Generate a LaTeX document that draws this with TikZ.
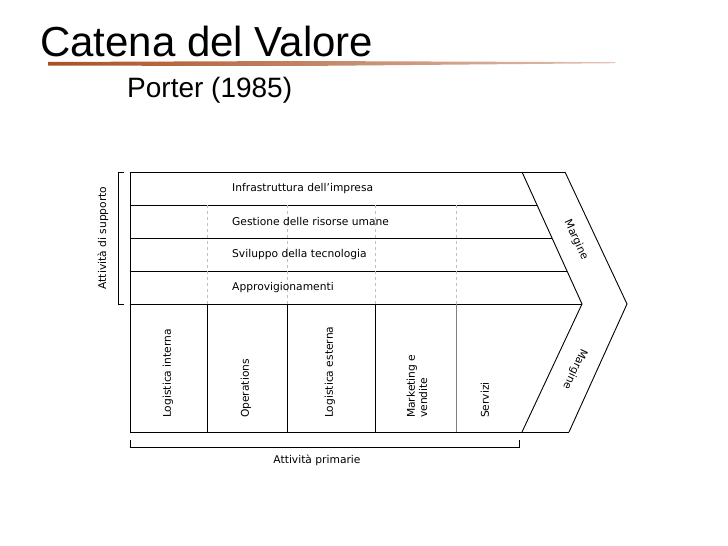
\documentclass[tikz,border=0pt]{standalone}
\usepackage{fontspec}
\setmainfont{Liberation Sans}
\newfontfamily\diagfont{DejaVu Sans}
\begin{document}
\begin{tikzpicture}[x=1pt,y=-1pt,
  lbl/.style={font=\diagfont\fontsize{10.7}{12.2}\selectfont, inner sep=0pt},
  vlbl/.style={lbl, rotate=90, anchor=west, align=left},
  frame/.style={draw=black, line width=0.9pt},
  dashdiv/.style={draw=black!25, dashed, line width=0.5pt},
  brk/.style={draw=black, line width=0.8pt}]
\useasboundingbox (0,0) rectangle (728,546);
\definecolor{brush}{RGB}{170,80,35}
% title
\node[anchor=base west, inner sep=0pt, font=\fontsize{42}{46}\selectfont] (title) at (40,56) {Catena del Valore};
\shade[left color=brush, right color=brush!35!white]
  (48,62) -- (300,61) -- (615,62.2) -- (615,63.2) -- (300,66) -- (48,65.6) -- cycle;
\node[anchor=base west, inner sep=0pt, font=\fontsize{28}{32}\selectfont] (sub) at (127,97) {Porter (1985)};
% main frame
\draw[frame] (130,172) -- (565,172);
\draw[frame] (130,172) -- (130,432) -- (569,432);
\draw[frame] (522,172) -- (582,304) -- (522,432);
\draw[frame] (565,172) -- (627,304) -- (569,432);
\draw[frame] (130,205) -- (537,205);
\draw[frame] (130,238) -- (552,238);
\draw[frame] (130,271) -- (567,271);
\draw[frame] (130,304) -- (582,304);
% dashed dividers in support rows
\foreach \x in {207,287,375,456} \draw[dashdiv] (\x,205) -- (\x,304);
% primary dividers
\foreach \x in {207,287,375} \draw[frame] (\x,304) -- (\x,432);
\draw[draw=black!50, line width=0.8pt] (456,304) -- (456,432);
% brackets
\draw[brk] (124,172) -- (118,172) -- (118,304) -- (124,304);
\draw[brk] (130,440) -- (130,447) -- (519,447) -- (519,440);
% support texts
\node[lbl, anchor=west] (infra) at (232,188.5) {Infrastruttura dell’impresa};
\node[lbl, anchor=west] (gest) at (232,221.5) {Gestione delle risorse umane};
\node[lbl, anchor=west] (svil) at (232,254.5) {Sviluppo della tecnologia};
\node[lbl, anchor=west] (appr) at (232,287.5) {Approvigionamenti};
% primary texts
\node[vlbl] (li) at (168,418) {Logistica interna};
\node[vlbl] (op) at (246,418) {Operations};
\node[vlbl] (le) at (330,418) {Logistica esterna};
\node[vlbl] (mv) at (417,418) {Marketing e\\vendite};
\node[vlbl] (se) at (485,418) {Servizi};
% margin labels
\node[lbl, rotate=-65.5] (m1) at (576,240) {Margine};
\node[lbl, rotate=-115] (m2) at (575,369) {Margine};
% bracket labels
\node[lbl, rotate=90] (sup) at (103,238) {Attività di supporto};
\node[lbl] (prim) at (317,460) {Attività primarie};
\end{tikzpicture}
\end{document}
